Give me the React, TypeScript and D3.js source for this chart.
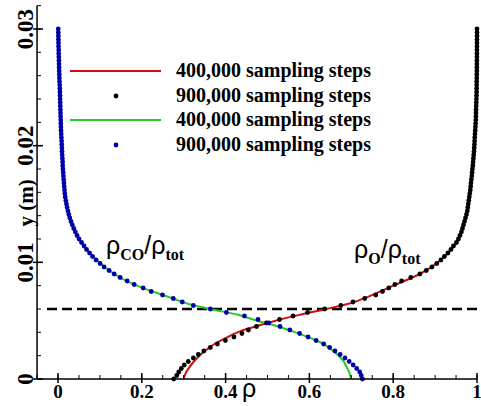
import React from 'react';
import * as d3 from 'd3';

const W = 481;
const H = 406;

// y positions (m) of the 900,000-step samples
const yGrid = [
  0, 0.0003, 0.0006, 0.0009, 0.0012, 0.0015, 0.0018, 0.0021, 0.0024, 0.0027,
  0.003, 0.0033, 0.0036, 0.0039, 0.0042, 0.0045, 0.0048, 0.0051, 0.0054, 0.0057,
  0.006, 0.0063, 0.0066, 0.0069, 0.0072, 0.0075, 0.0078, 0.0081, 0.0084, 0.0087,
  0.009, 0.0093, 0.0096, 0.0099, 0.0102, 0.0105, 0.0108, 0.0111, 0.0114, 0.0117,
  0.012, 0.0123, 0.0126, 0.0129, 0.0132, 0.0135, 0.0138, 0.0141, 0.0144, 0.0147,
  0.015, 0.0153, 0.0156, 0.0159, 0.0162, 0.0165, 0.0168, 0.0171, 0.0174, 0.0177,
  0.018, 0.0183, 0.0186, 0.0189, 0.0192, 0.0195, 0.0198, 0.0201, 0.0204, 0.0207,
  0.021, 0.0213, 0.0216, 0.0219, 0.0222, 0.0225, 0.0228, 0.0231, 0.0234, 0.0237,
  0.024, 0.0243, 0.0246, 0.0249, 0.0252, 0.0255, 0.0258, 0.0261, 0.0264, 0.0267,
  0.027, 0.0273, 0.0276, 0.0279, 0.0282, 0.0285, 0.0288, 0.0291, 0.0294, 0.0297,
  0.03,
];

// rho_CO / rho_tot, 900,000 sampling steps (blue dots)
const coFraction900k = [
  0.7266, 0.7237, 0.7201, 0.7129, 0.7045, 0.6950, 0.6849, 0.6734, 0.6610, 0.6483,
  0.6340, 0.6160, 0.5969, 0.5766, 0.5533, 0.5299, 0.5031, 0.4773, 0.4450, 0.4019,
  0.3636, 0.3230, 0.2967, 0.2751, 0.2495, 0.2225, 0.2033, 0.1818, 0.1651, 0.1483,
  0.1340, 0.1220, 0.1100, 0.1005, 0.0909, 0.0825, 0.0754, 0.0682, 0.0622, 0.0562,
  0.0502, 0.0455, 0.0414, 0.0376, 0.0342, 0.0311, 0.0282, 0.0258, 0.0237, 0.0218,
  0.0201, 0.0187, 0.0172, 0.0163, 0.0156, 0.0148, 0.0141, 0.0136, 0.0129, 0.0124,
  0.0117, 0.0112, 0.0110, 0.0105, 0.0100, 0.0096, 0.0093, 0.0089, 0.0086, 0.0081,
  0.0077, 0.0072, 0.0069, 0.0067, 0.0065, 0.0062, 0.0060, 0.0057, 0.0055, 0.0053,
  0.0050, 0.0048, 0.0045, 0.0043, 0.0041, 0.0036, 0.0033, 0.0031, 0.0029, 0.0026,
  0.0024, 0.0022, 0.0019, 0.0017, 0.0016, 0.0014, 0.0012, 0.0010, 0.0009, 0.0007,
  0.0005,
];

// rho_O / rho_tot, 900,000 sampling steps (black dots)
const oFraction900k = [
  0.2763, 0.2835, 0.2883, 0.2943, 0.3014, 0.3110, 0.3230, 0.3349, 0.3481, 0.3636,
  0.3804, 0.3995, 0.4199, 0.4390, 0.4545, 0.4737, 0.4976, 0.5287, 0.5610, 0.5957,
  0.6364, 0.6750, 0.7040, 0.7321, 0.7584, 0.7745, 0.7895, 0.8040, 0.8200, 0.8420,
  0.8636, 0.8790, 0.8925, 0.9040, 0.9139, 0.9222, 0.9306, 0.9378, 0.9438, 0.9510,
  0.9557, 0.9593, 0.9628, 0.9653, 0.9677, 0.9701, 0.9725, 0.9749, 0.9768, 0.9780,
  0.9792, 0.9804, 0.9816, 0.9828, 0.9840, 0.9849, 0.9856, 0.9866, 0.9876, 0.9883,
  0.9890, 0.9900, 0.9907, 0.9914, 0.9921, 0.9928, 0.9933, 0.9938, 0.9943, 0.9947,
  0.9952, 0.9957, 0.9962, 0.9967, 0.9971, 0.9974, 0.9976, 0.9978, 0.9981, 0.9983,
  0.9986, 0.9988, 0.9990, 0.9991, 0.9992, 0.9993, 0.9994, 0.9995, 0.9996, 0.9996,
  0.9997, 0.9997, 0.9998, 0.9998, 0.9998, 0.9999, 0.9999, 0.9999, 1.0, 1.0,
  1.0,
];

// 400,000 sampling steps (solid lines)
const lineY400k = [
  0, 0.0003, 0.0006, 0.001, 0.0015, 0.002, 0.0025, 0.003, 0.0035, 0.004,
  0.0045, 0.005, 0.0055, 0.006, 0.0065, 0.007, 0.008, 0.009, 0.010, 0.011,
  0.012, 0.013, 0.014, 0.016, 0.018, 0.020, 0.023, 0.026, 0.030,
];
const oFraction400k = [
  0.2998, 0.3026, 0.3062, 0.3134, 0.3242, 0.3373, 0.3541, 0.3732, 0.3995, 0.4282,
  0.4713, 0.5191, 0.5766, 0.6400, 0.6986, 0.7368, 0.8000, 0.8636, 0.9070, 0.9360,
  0.9557, 0.9660, 0.9740, 0.9830, 0.9890, 0.9937, 0.9978, 0.9995, 1.0,
];
const coFraction400k = [
  0.700, 0.697, 0.695, 0.689, 0.682, 0.670, 0.653, 0.634, 0.603, 0.567,
  0.525, 0.475, 0.430, 0.3636, 0.305, 0.267, 0.188, 0.134, 0.098, 0.070,
  0.050, 0.0365, 0.0265, 0.0161, 0.0117, 0.0090, 0.0058, 0.0032, 0.0005,
];

const interfaceY = 0.006;

const xTicks = [0, 0.2, 0.4, 0.6, 0.8, 1];
const xTickLabels = ['0', '0.2', '0.4', '0.6', '0.8', '1'];
const yTicks = [0, 0.01, 0.02, 0.03];
const yTickLabels = ['0', '0.01', '0.02', '0.03'];
const legendLabels = [
  '400,000 sampling steps',
  '900,000 sampling steps',
  '400,000 sampling steps',
  '900,000 sampling steps',
];

const RED = '#d01010';
const GREEN = '#22cc22';
const BLUE = '#0000aa';
const SERIF = "'Liberation Serif', 'Times New Roman', serif";
const SANS = "'Liberation Sans', Arial, sans-serif";

export default function App() {
  const x = d3.scaleLinear().domain([0, 1]).range([58, 477]);
  const y = d3.scaleLinear().domain([0, 0.03]).range([379, 29]);
  const xMin = -0.05;
  const yMax = 0.032;
  const x0 = x(xMin);
  const y0 = y(0);

  const line = d3
    .line<[number, number]>()
    .x((d) => x(d[0]))
    .y((d) => y(d[1]))
    .curve(d3.curveCatmullRom.alpha(0.5));

  const redPts: [number, number][] = lineY400k.map((v, i) => [oFraction400k[i], v]);
  const greenPts: [number, number][] = lineY400k.map((v, i) => [coFraction400k[i], v]);

  const xMinor = d3.range(-0.05, 1.0001, 0.05);
  const yMinor = d3.range(0, 0.0321, 0.002);

  const legendRows = [
    { type: 'line', color: RED, yy: 71 },
    { type: 'dot', color: '#000', yy: 96 },
    { type: 'line', color: GREEN, yy: 120 },
    { type: 'dot', color: BLUE, yy: 145 },
  ];

  return (
    <svg
      width={W}
      height={H}
      style={{ position: 'absolute', left: 0, top: 0, background: '#fff' }}
    >
      <rect x={0} y={0} width={W} height={H} fill="#fff" />

      {/* dashed interface line */}
      <line
        x1={47}
        x2={477}
        y1={y(interfaceY)}
        y2={y(interfaceY)}
        stroke="#000"
        strokeWidth={2.4}
        strokeDasharray="10,5"
      />

      {/* 400k lines */}
      <path d={line(redPts) || ''} fill="none" stroke={RED} strokeWidth={2} />
      <path d={line(greenPts) || ''} fill="none" stroke={GREEN} strokeWidth={2} />

      {/* 900k dots */}
      {yGrid.map((v, i) => (
        <circle key={'o' + i} cx={x(oFraction900k[i])} cy={y(v)} r={2.4} fill="#000" />
      ))}
      {yGrid.map((v, i) => (
        <circle key={'c' + i} cx={x(coFraction900k[i])} cy={y(v)} r={2.4} fill={BLUE} />
      ))}

      {/* axes */}
      <line x1={x0} x2={x0} y1={y(yMax)} y2={y0} stroke="#000" strokeWidth={1.5} />
      <line x1={x0} x2={x(1)} y1={y0} y2={y0} stroke="#000" strokeWidth={1.5} />
      {xMinor.map((t, i) => (
        <line key={'xm' + i} x1={x(t)} x2={x(t)} y1={y0} y2={y0 - 4} stroke="#000" strokeWidth={1} />
      ))}
      {xTicks.map((t, i) => (
        <line key={'xM' + i} x1={x(t)} x2={x(t)} y1={y0 + 4} y2={y0 - 6} stroke="#000" strokeWidth={1.5} />
      ))}
      {yMinor.map((t, i) => (
        <line key={'ym' + i} x1={x0} x2={x0 + 4} y1={y(t)} y2={y(t)} stroke="#000" strokeWidth={1} />
      ))}
      {yTicks.map((t, i) => (
        <line key={'yM' + i} x1={x0 - 4} x2={x0 + 6} y1={y(t)} y2={y(t)} stroke="#000" strokeWidth={1.5} />
      ))}

      {xTicks.map((t, i) => (
        <text
          key={'xl' + i}
          x={x(t)}
          y={398}
          textAnchor="middle"
          fontFamily={SERIF}
          fontWeight="bold"
          fontSize={19}
        >
          {xTickLabels[i]}
        </text>
      ))}
      {yTicks.map((t, i) => (
        <text
          key={'yl' + i}
          transform={`translate(33,${y(t)}) rotate(-90)`}
          textAnchor="middle"
          fontFamily={SERIF}
          fontWeight="bold"
          fontSize={23}
        >
          {yTickLabels[i]}
        </text>
      ))}

      {/* axis titles */}
      <text
        transform={`translate(33,203) rotate(-90)`}
        textAnchor="middle"
        fontFamily={SERIF}
        fontWeight="bold"
        fontSize={21}
      >
        y (m)
      </text>
      <text x={249} y={397} textAnchor="middle" fontFamily={SANS} fontSize={25}>
        ρ
      </text>

      {/* annotations */}
      <text x={106} y={254} fontFamily={SANS} fontSize={25}>
        ρ
        <tspan fontFamily={SERIF} fontWeight="bold" fontSize={16} dy={6}>CO</tspan>
        <tspan dy={-6}>/ρ</tspan>
        <tspan fontFamily={SERIF} fontWeight="bold" fontSize={16} dy={6}>tot</tspan>
      </text>
      <text x={354} y={258} fontFamily={SANS} fontSize={25}>
        ρ
        <tspan fontFamily={SERIF} fontWeight="bold" fontSize={16} dy={6}>O</tspan>
        <tspan dy={-6}>/ρ</tspan>
        <tspan fontFamily={SERIF} fontWeight="bold" fontSize={16} dy={6}>tot</tspan>
      </text>

      {/* legend */}
      {legendRows.map((r, i) => (
        <g key={'lg' + i}>
          {r.type === 'line' ? (
            <line x1={70} x2={161} y1={r.yy} y2={r.yy} stroke={r.color} strokeWidth={2.2} />
          ) : (
            <circle cx={116} cy={r.yy} r={2.4} fill={r.color} />
          )}
          <text x={176} y={r.yy + 6} fontFamily={SERIF} fontWeight="bold" fontSize={20}>
            {legendLabels[i]}
          </text>
        </g>
      ))}
    </svg>
  );
}
